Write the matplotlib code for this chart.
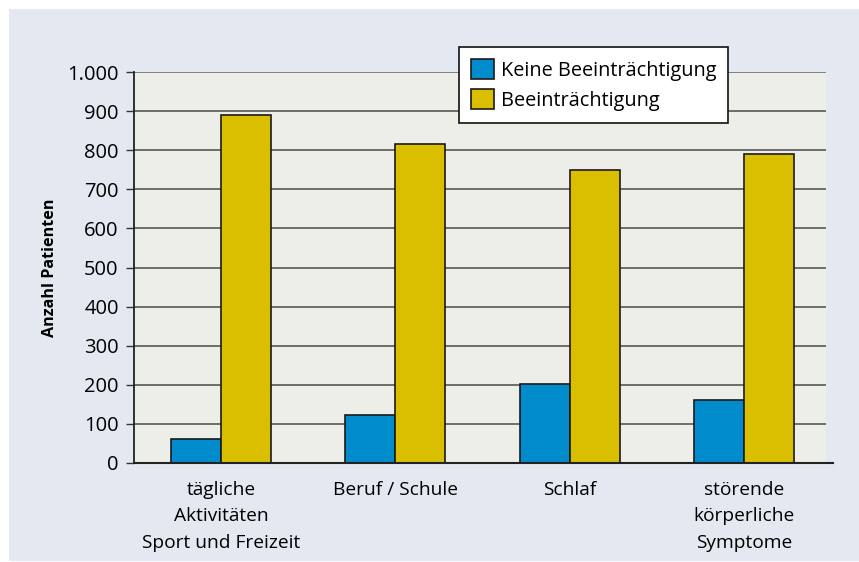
import matplotlib.pyplot as plt
from matplotlib.patches import Rectangle
import numpy as np

# Daten
kategorien = ["tägliche\nAktivitäten\nSport und Freizeit", "Beruf / Schule", "Schlaf",
              "störende\nkörperliche\nSymptome"]
keine_beeintr = [61, 124, 201, 161]
beeintr = [889, 815, 750, 790]
y_ticks = [0, 100, 200, 300, 400, 500, 600, 700, 800, 900, 1000]
y_ticklabels = ["0", "100", "200", "300", "400", "500", "600", "700", "800", "900", "1.000"]

BLAU = "#008ccc"
GELB = "#d9bf00"
HINTERGRUND = "#e4e9f1"
PLOT_BG = "#eeeee9"

plt.rcParams['font.family'] = ['Open Sans', 'DejaVu Sans']

fig = plt.figure(figsize=(8.59, 5.62), dpi=100)
fig.patch.set_facecolor("white")
fig.patches.append(Rectangle((9 / 859, 1 / 562), 1, 552 / 562, transform=fig.transFigure,
                             facecolor=HINTERGRUND, edgecolor="none", zorder=-10))

ax = fig.add_axes([134 / 859, 99 / 562, 692 / 859, 391 / 562])
ax.set_facecolor(PLOT_BG)

x = np.arange(len(kategorien))
w = 0.287
ax.bar(x - w / 2, keine_beeintr, w, color=BLAU, edgecolor="#1a1a1a", linewidth=1.2,
       label="Keine Beeinträchtigung", zorder=3)
ax.bar(x + w / 2, beeintr, w, color=GELB, edgecolor="#1a1a1a", linewidth=1.2,
       label="Beeinträchtigung", zorder=3)

ax.set_xlim(-0.5, 3.47)
ax.set_ylim(0, 1000)
ax.set_yticks(y_ticks)
ax.set_yticklabels(y_ticklabels, fontsize=14.5)
ax.set_xticks(x)
ax.set_xticklabels(kategorien, fontsize=13.8, linespacing=1.6)
ax.tick_params(axis="x", length=0, pad=13)
ax.tick_params(axis="y", length=6, width=1, color="#333333", pad=5)

for t in y_ticks[1:]:
    ax.axhline(t, color="#707880" if t == 1000 else "#4a4a4a", lw=1.3 if t == 1000 else 1.1, zorder=1)

for s in ["top", "right"]:
    ax.spines[s].set_visible(False)
ax.spines["left"].set_linewidth(1.3)
ax.spines["left"].set_color("#222222")
ax.spines["bottom"].set_visible(False)
ax.plot([0, 1.01], [0, 0], transform=ax.transAxes, color="#222222", lw=1.5, clip_on=False, zorder=4)

ax.set_ylabel("Anzahl Patienten", fontsize=11.6, fontweight="bold", labelpad=7)

leg = fig.legend(loc="upper left", bbox_to_anchor=(459 / 859, 1 - 47 / 562), fontsize=14.3,
                 frameon=True, fancybox=False, edgecolor="#111111", framealpha=1,
                 handlelength=1.15, handleheight=1.15, handletextpad=0.35, borderpad=0.6,
                 labelspacing=0.45, borderaxespad=0)
leg.get_frame().set_linewidth(1.2)

fig.savefig("out.png", dpi=100, facecolor=fig.get_facecolor())
